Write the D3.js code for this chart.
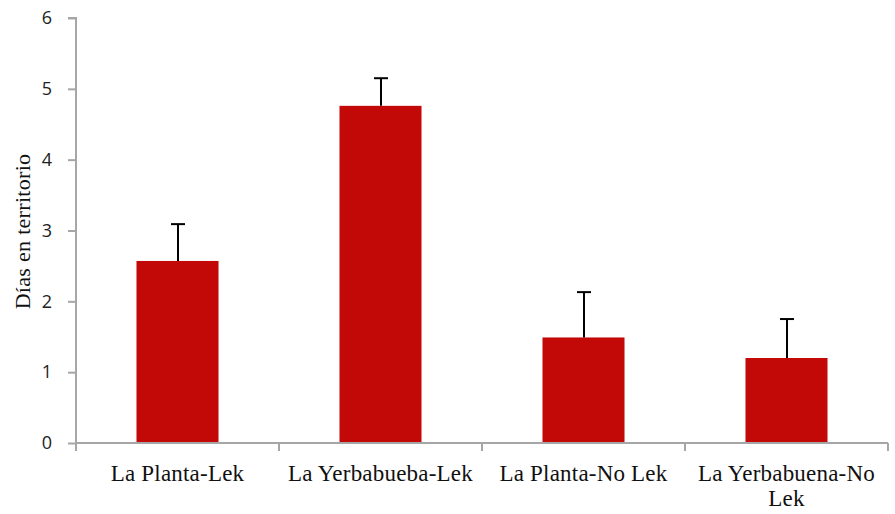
<!DOCTYPE html>
<html><head><meta charset="utf-8">
<script src="https://cdn.jsdelivr.net/npm/d3@7"></script>
<style>body{margin:0;background:#fff}svg{display:block}</style>
</head><body>
<script>
const categories = ["La Planta-Lek", "La Yerbabueba-Lek", "La Planta-No Lek", "La Yerbabuena-No Lek"];
const values = [2.57, 4.76, 1.49, 1.20];
const errors = [0.52, 0.39, 0.64, 0.55];
const yTicks = [0, 1, 2, 3, 4, 5, 6];
const yTitle = "Días en territorio";

const W = 895, H = 514;
const m = {left: 76, right: 7, top: 18, bottom: 71};
const svg = d3.select("body").append("svg").attr("width", W).attr("height", H);

const x = d3.scaleBand().domain(categories).range([m.left, W - m.right]).paddingInner(0.596).paddingOuter(0.298);
const xb = d3.scaleBand().domain(categories).range([m.left, W - m.right]);
const y = d3.scaleLinear().domain([0, 6]).range([H - m.bottom, m.top]);

const axisColor = "#a6a6a6";

// bars
svg.selectAll("rect.bar").data(categories).join("rect")
  .attr("class", "bar")
  .attr("x", d => x(d)).attr("width", x.bandwidth())
  .attr("y", (d, i) => y(values[i])).attr("height", (d, i) => y(0) - y(values[i]))
  .attr("fill", "#c30808");

// error bars
const eb = svg.append("g").attr("stroke", "#000").attr("stroke-width", 2);
categories.forEach((c, i) => {
  const cx = Math.round(x(c) + x.bandwidth() / 2);
  eb.append("line").attr("x1", cx).attr("x2", cx).attr("y1", y(values[i])).attr("y2", y(values[i] + errors[i]));
  eb.append("line").attr("x1", cx - 7).attr("x2", cx + 7).attr("y1", y(values[i] + errors[i])).attr("y2", y(values[i] + errors[i]));
});

// y axis
const ya = svg.append("g").attr("transform", `translate(${m.left},0)`)
  .call(d3.axisLeft(y).tickValues(yTicks).tickSize(8).tickPadding(16).tickFormat(d3.format("d")));
ya.select(".domain").attr("stroke", axisColor).attr("stroke-width", 2).attr("d", `M-8,${y(6)}H0V${y(0)}`);
ya.selectAll(".tick line").attr("stroke", axisColor).attr("stroke-width", 2);
ya.selectAll(".tick text").attr("font-family", "'Open Sans', sans-serif").attr("font-size", 18).attr("fill", "#222");

// x axis
const xa = svg.append("g").attr("transform", `translate(0,${y(0)})`);
xa.append("line").attr("x1", m.left).attr("x2", W - m.right).attr("y1", 0).attr("y2", 0)
  .attr("stroke", axisColor).attr("stroke-width", 2);
const bounds = categories.map(c => xb(c)).concat([W - m.right]);
xa.selectAll("line.tk").data(bounds).join("line").attr("class", "tk")
  .attr("x1", d => d).attr("x2", d => d).attr("y1", 0).attr("y2", 8)
  .attr("stroke", axisColor).attr("stroke-width", 2);

const labels = xa.selectAll("text.lbl").data(categories).join("text").attr("class", "lbl")
  .attr("x", d => xb(d) + xb.bandwidth() / 2).attr("y", 38)
  .attr("text-anchor", "middle").attr("font-family", "'Liberation Serif', 'Times New Roman', serif")
  .attr("font-size", 23).attr("letter-spacing", 0.2).attr("fill", "#111");
labels.each(function(d) {
  const t = d3.select(this);
  const words = d.split(" ");
  const maxW = 195;
  let line = [];
  let tspan = t.append("tspan").attr("x", xb(d) + xb.bandwidth() / 2).attr("dy", 0);
  words.forEach(w => {
    line.push(w);
    tspan.text(line.join(" "));
    if (tspan.node().getComputedTextLength() > maxW && line.length > 1) {
      line.pop();
      tspan.text(line.join(" "));
      line = [w];
      tspan = t.append("tspan").attr("x", xb(d) + xb.bandwidth() / 2).attr("dy", 25).text(w);
    }
  });
});

// y title
svg.append("text").attr("transform", `translate(30,${(y(0) + y(6)) / 2 + 1}) rotate(-90)`)
  .attr("text-anchor", "middle").attr("font-family", "'Liberation Serif', 'Times New Roman', serif")
  .attr("font-size", 22).attr("letter-spacing", 0.3).attr("fill", "#111").text(yTitle);
</script>
</body></html>
